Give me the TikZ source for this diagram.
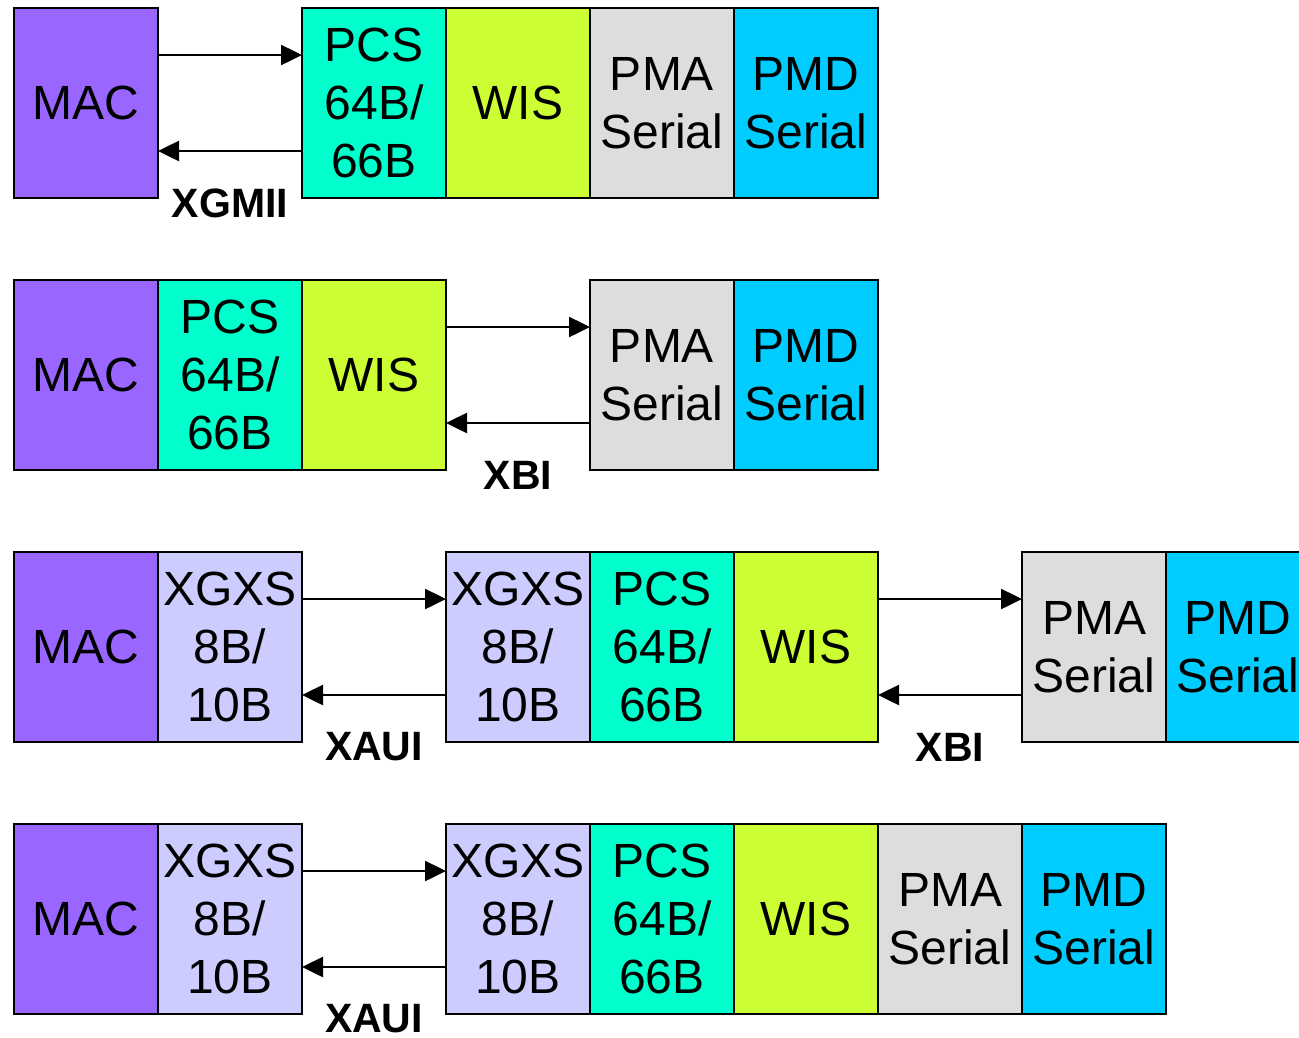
\documentclass[tikz,border=0pt]{standalone}
\usepackage{fontspec}
\setmainfont{Liberation Sans}
\usetikzlibrary{positioning,arrows.meta,calc}
\definecolor{macfill}{HTML}{9966FF}
\definecolor{pcsfill}{HTML}{00FFCC}
\definecolor{wisfill}{HTML}{CCFF33}
\definecolor{pmafill}{HTML}{DDDDDD}
\definecolor{pmdfill}{HTML}{00CCFF}
\definecolor{xgxsfill}{HTML}{CCCCFF}
\tikzset{
  layer/.style={draw,line width=2.5pt,outer sep=0pt,inner sep=0pt,
    minimum width=144pt,minimum height=190pt,align=center,
    font=\fontsize{48}{58}\selectfont},
  mac/.style={layer,fill=macfill},
  pcs/.style={layer,fill=pcsfill},
  wis/.style={layer,fill=wisfill},
  pma/.style={layer,fill=pmafill},
  pmd/.style={layer,fill=pmdfill},
  xgxs/.style={layer,fill=xgxsfill},
  link/.style={line width=2.5pt,-{Triangle[length=21pt,width=20pt]}},
  bus/.style={inner sep=0pt,yshift=-5pt,font=\fontsize{41}{48}\selectfont\bfseries}
}
\begin{document}
\begin{tikzpicture}[x=1pt,y=-1pt]
    \useasboundingbox (0,0) rectangle (1299,1037);
    \clip (0,0) rectangle (1299,1037);
    % 10GBASE-W, XGMII
    \node[mac] (m1) at (86,103) {MAC};
    \node[pcs] (p1) at (374,103) {PCS\\64B/\\66B};
    \node[wis,right=0pt of p1] (w1) {WIS};
    \node[pma,right=0pt of w1] (a1) {PMA\\Serial};
    \node[pmd,right=0pt of a1] (d1) {PMD\\Serial};
    \draw[link] ([yshift=-47pt]m1.north east) -- ([yshift=-47pt]p1.north west);
    \draw[link] ([yshift=47pt]p1.south west) -- ([yshift=47pt]m1.south east);
    \node[bus] (xgmii) at ($(m1.south east)!0.5!(p1.south west)$) {XGMII};
    % XBI
    \node[mac] (m2) at (86,375) {MAC};
    \node[pcs,right=0pt of m2] (p2) {PCS\\64B/\\66B};
    \node[wis,right=0pt of p2] (w2) {WIS};
    \node[pma] (a2) at (662,375) {PMA\\Serial};
    \node[pmd,right=0pt of a2] (d2) {PMD\\Serial};
    \draw[link] ([yshift=-47pt]w2.north east) -- ([yshift=-47pt]a2.north west);
    \draw[link] ([yshift=47pt]a2.south west) -- ([yshift=47pt]w2.south east);
    \node[bus] (xbi2) at ($(w2.south east)!0.5!(a2.south west)$) {XBI};
    % XAUI and XBI
    \node[mac] (m3) at (86,647) {MAC};
    \node[xgxs,right=0pt of m3] (x3) {XGXS\\8B/\\10B};
    \node[xgxs] (y3) at (518,647) {XGXS\\8B/\\10B};
    \node[pcs,right=0pt of y3] (p3) {PCS\\64B/\\66B};
    \node[wis,right=0pt of p3] (w3) {WIS};
    \node[pma] (a3) at (1094,647) {PMA\\Serial};
    \node[pmd,right=0pt of a3] (d3) {PMD\\Serial};
    \draw[link] ([yshift=-47pt]x3.north east) -- ([yshift=-47pt]y3.north west);
    \draw[link] ([yshift=47pt]y3.south west) -- ([yshift=47pt]x3.south east);
    \node[bus] (xaui3) at ($(x3.south east)!0.5!(y3.south west)$) {XAUI};
    \draw[link] ([yshift=-47pt]w3.north east) -- ([yshift=-47pt]a3.north west);
    \draw[link] ([yshift=47pt]a3.south west) -- ([yshift=47pt]w3.south east);
    \node[bus] (xbi3) at ($(w3.south east)!0.5!(a3.south west)$) {XBI};
    % XAUI
    \node[mac] (m4) at (86,919) {MAC};
    \node[xgxs,right=0pt of m4] (x4) {XGXS\\8B/\\10B};
    \node[xgxs] (y4) at (518,919) {XGXS\\8B/\\10B};
    \node[pcs,right=0pt of y4] (p4) {PCS\\64B/\\66B};
    \node[wis,right=0pt of p4] (w4) {WIS};
    \node[pma,right=0pt of w4] (a4) {PMA\\Serial};
    \node[pmd,right=0pt of a4] (d4) {PMD\\Serial};
    \draw[link] ([yshift=-47pt]x4.north east) -- ([yshift=-47pt]y4.north west);
    \draw[link] ([yshift=47pt]y4.south west) -- ([yshift=47pt]x4.south east);
    \node[bus] (xaui4) at ($(x4.south east)!0.5!(y4.south west)$) {XAUI};
\end{tikzpicture}
\end{document}
